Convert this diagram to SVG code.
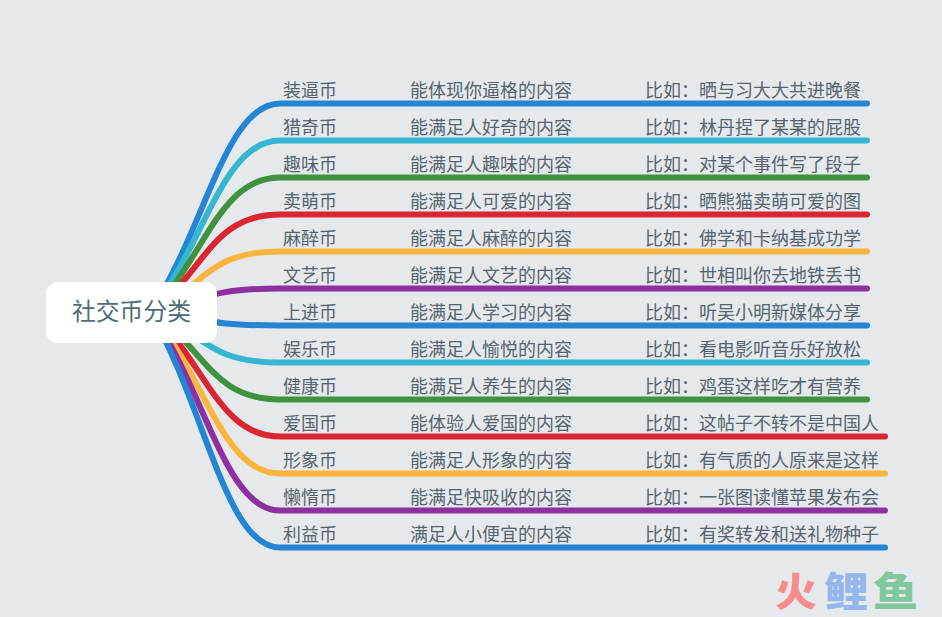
<svg xmlns="http://www.w3.org/2000/svg" width="942" height="617" viewBox="0 0 942 617">
<style>
.l{fill:none;stroke-width:6;stroke-linecap:round}
.b{stroke:#2385d3}.c{stroke:#36b6d2}.g{stroke:#3f933f}.r{stroke:#d92630}.y{stroke:#fbb53d}.p{stroke:#8e2fa2}
text{font-family:"Noto Sans CJK SC","Noto Sans",sans-serif;font-size:18px;fill:#56646d;font-weight:400}
.w{font-size:39.500px;font-weight:900}
</style>
<rect width="942" height="617" fill="#e6e9ec"/>
<g id="connectors">
<path class="l b" d="M150 312C205 231 225 103.500 280 103.500H867"/>
<path class="l c" d="M150 312C205 245 222 140.500 280 140.500H867"/>
<path class="l g" d="M150 312C205 260 218 177.500 280 177.500H867"/>
<path class="l r" d="M150 312C205 274 210 214.500 280 214.500H867"/>
<path class="l y" d="M150 312C205 288 205 251.500 280 251.500H867"/>
<path class="l p" d="M150 312C205 303 200 288.500 280 288.500H867"/>
<path class="l b" d="M150 312C205 317 200 325.500 280 325.500H867"/>
<path class="l c" d="M150 312C205 332 205 362.500 280 362.500H867"/>
<path class="l g" d="M150 312C205 346 210 399.500 280 399.500H867"/>
<path class="l r" d="M150 312C205 360 218 436.500 280 436.500H885"/>
<path class="l y" d="M150 312C205 375 222 473.500 280 473.500H885"/>
<path class="l p" d="M150 312C205 389 225 510.500 280 510.500H885"/>
<path class="l b" d="M150 312C205 404 225 547.500 280 547.500H885"/>
</g>
<g id="root"><rect x="46" y="282" width="171" height="61" rx="12" fill="#fff"/><text x="72" y="320" style="font-size:23.800px;fill:#4f6b78">社交币分类</text></g>
<g id="n1"><text x="283" y="97">装逼币</text><text x="410" y="97">能体现你逼格的内容</text><text x="645" y="97">比如：晒与习大大共进晚餐</text></g>
<g id="n2"><text x="283" y="134">猎奇币</text><text x="410" y="134">能满足人好奇的内容</text><text x="645" y="134">比如：林丹捏了某某的屁股</text></g>
<g id="n3"><text x="283" y="171">趣味币</text><text x="410" y="171">能满足人趣味的内容</text><text x="645" y="171">比如：对某个事件写了段子</text></g>
<g id="n4"><text x="283" y="208">卖萌币</text><text x="410" y="208">能满足人可爱的内容</text><text x="645" y="208">比如：晒熊猫卖萌可爱的图</text></g>
<g id="n5"><text x="283" y="245">麻醉币</text><text x="410" y="245">能满足人麻醉的内容</text><text x="645" y="245">比如：佛学和卡纳基成功学</text></g>
<g id="n6"><text x="283" y="282">文艺币</text><text x="410" y="282">能满足人文艺的内容</text><text x="645" y="282">比如：世相叫你去地铁丢书</text></g>
<g id="n7"><text x="283" y="319">上进币</text><text x="410" y="319">能满足人学习的内容</text><text x="645" y="319">比如：听吴小明新媒体分享</text></g>
<g id="n8"><text x="283" y="356">娱乐币</text><text x="410" y="356">能满足人愉悦的内容</text><text x="645" y="356">比如：看电影听音乐好放松</text></g>
<g id="n9"><text x="283" y="393">健康币</text><text x="410" y="393">能满足人养生的内容</text><text x="645" y="393">比如：鸡蛋这样吃才有营养</text></g>
<g id="n10"><text x="283" y="430">爱国币</text><text x="410" y="430">能体验人爱国的内容</text><text x="645" y="430">比如：这帖子不转不是中国人</text></g>
<g id="n11"><text x="283" y="467">形象币</text><text x="410" y="467">能满足人形象的内容</text><text x="645" y="467">比如：有气质的人原来是这样</text></g>
<g id="n12"><text x="283" y="504">懒惰币</text><text x="410" y="504">能满足快吸收的内容</text><text x="645" y="504">比如：一张图读懂苹果发布会</text></g>
<g id="n13"><text x="283" y="541">利益币</text><text x="410" y="541">满足人小便宜的内容</text><text x="645" y="541">比如：有奖转发和送礼物种子</text></g>
<g id="watermark"><text class="w" transform="translate(775 606) scale(1.06 1)" style="fill:#f98b8f">火</text><text class="w" transform="translate(824 606) scale(1.12 1)" style="fill:#96b6ee">鲤</text><text class="w" transform="translate(873 606) scale(1.14 1)" style="fill:#80c79c">鱼</text></g>
</svg>
